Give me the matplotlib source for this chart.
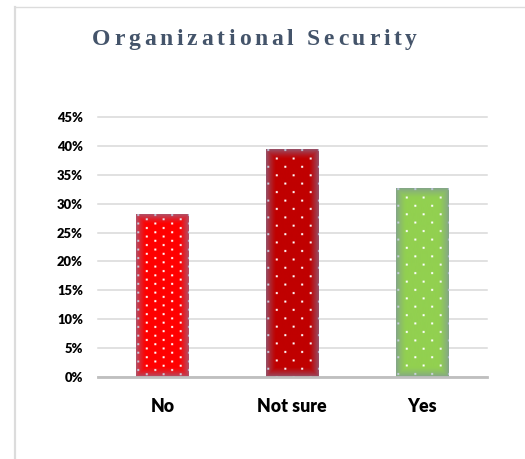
import numpy as np
import matplotlib
matplotlib.use("Agg")
import matplotlib.pyplot as plt
from matplotlib.colors import to_rgb
from matplotlib.ticker import PercentFormatter, MultipleLocator
from matplotlib.lines import Line2D

# ---- data ----
categories = ["No", "Not sure", "Yes"]
shares = [0.281, 0.393, 0.326]
bar_colors = ["#FF0000", "#C00000", "#92D050"]
y_max = 0.45
y_step = 0.05
title = "Organizational Security"

# ---- figure / axes ----
W, H = 525, 459
fig = plt.figure(figsize=(W / 100, H / 100), dpi=100)
fig.patch.set_facecolor("white")

ax_left, ax_right, ax_top, ax_bottom = 97.7, 486.7, 116.7, 377.3
ax = fig.add_axes([ax_left / W, 1 - ax_bottom / H,
                   (ax_right - ax_left) / W, (ax_bottom - ax_top) / H])
ax.set_xlim(-0.5, len(categories) - 0.5)
ax.set_ylim(0, y_max)

bars = ax.bar(range(len(categories)), shares, width=0.406,
              color=bar_colors, linewidth=0, zorder=2)

# axis styling
for side in ("top", "right", "left"):
    ax.spines[side].set_visible(False)
ax.spines["bottom"].set_color("#BFBFBF")
ax.spines["bottom"].set_linewidth(2.0)
ax.spines["bottom"].set_zorder(3)

ax.yaxis.set_major_locator(MultipleLocator(y_step))
ax.yaxis.set_major_formatter(PercentFormatter(1.0, decimals=0))
ax.set_xticks(range(len(categories)))
ax.set_xticklabels(categories)
ax.tick_params(axis="both", length=0)
ax.tick_params(axis="y", pad=10.5)
ax.tick_params(axis="x", pad=15)
for lab in ax.get_yticklabels():
    lab.set_fontfamily("Lato")
    lab.set_fontweight("heavy")
    lab.set_fontsize(9.4)
    lab.set_color("#000000")
for lab in ax.get_xticklabels():
    lab.set_fontfamily("Lato")
    lab.set_fontweight("heavy")
    lab.set_fontsize(12.8)
    lab.set_color("#000000")

ax.set_axisbelow(True)
ax.yaxis.grid(True, color="#D9D9D9", linewidth=1.1)
for gl in ax.get_ygridlines():
    gl.set_clip_on(False)

# ---- textured bar fills: edge-shaded gradient with a dotted pattern ----
renderer = fig.canvas.get_renderer()
edge_rgb = np.array(to_rgb("#7A88B0"))
ss = 4  # supersampling
row_pitch = [4.3, 8.4, 8.4]
col_pitch = 8.4
for patch, col, rp in zip(bars.patches, bar_colors, row_pitch):
    bb = patch.get_window_extent(renderer)
    bw, bh = bb.width, bb.height
    nx, ny = max(int(round(bw * ss)), 1), max(int(round(bh * ss)), 1)
    px = (np.arange(nx) + 0.5) / ss * (bw / (nx / ss))
    py = (np.arange(ny) + 0.5) / ss * (bh / (ny / ss))
    PX, PY = np.meshgrid(px, py)
    d = np.minimum.reduce([PX, bw - PX, PY, bh - PY])
    f = np.clip(1 - d / 10.0, 0, 1) ** 1.3 * 0.6

    x_off, y_off = 2.3, 1.0
    k = np.round((PX - x_off) / col_pitch)
    r = np.round((PY - y_off) / rp)
    dx = PX - (x_off + k * col_pitch)
    dy = PY - (y_off + r * rp)
    dots = (np.abs(dx) < 1.0) & (np.abs(dy) < 1.0) & ((k + r) % 2 == 0) & (k >= 0) & (r >= 0)

    base = np.empty((ny, nx, 3))
    base[:] = np.array(to_rgb(col))
    base[dots] = 1.0
    img = base * (1 - f[..., None]) + edge_rgb * f[..., None]

    x0, y0 = patch.get_x(), patch.get_y()
    ax.imshow(img, extent=(x0, x0 + patch.get_width(), y0, y0 + patch.get_height()),
              origin="upper", aspect="auto", interpolation="antialiased", zorder=2.1)

ax.set_xlim(-0.5, len(categories) - 0.5)
ax.set_ylim(0, y_max)

# ---- letter-spaced title ----
tkw = dict(fontfamily="Liberation Serif", fontweight="bold", fontsize=17, color="#44546A")

def text_w(s):
    t = fig.text(0, 0, s, **tkw)
    w = t.get_window_extent(renderer).width
    t.remove()
    return w

widths = []
for ch in title:
    if ch == " ":
        widths.append(text_w("a a") - text_w("aa"))
    else:
        widths.append(text_w(ch))
t_left, t_right, t_base = 92.0, 417.0, 45.0
gap = (t_right - t_left - sum(widths)) / (len(title) - 1)
x = t_left
for ch, w in zip(title, widths):
    if ch != " ":
        fig.text(x / W, 1 - t_base / H, ch, ha="left", va="baseline", **tkw)
    x += w + gap

# ---- chart-area frame ----
fig.add_artist(Line2D([14.5 / W, 14.5 / W], [0, 1 - 7.3 / H], transform=fig.transFigure,
                      color="#DCDCDC", linewidth=1.6))
fig.add_artist(Line2D([14.5 / W, 1], [1 - 7.3 / H, 1 - 7.3 / H], transform=fig.transFigure,
                      color="#DCDCDC", linewidth=1.0))

fig.savefig("out.png", dpi=100, facecolor="white")
